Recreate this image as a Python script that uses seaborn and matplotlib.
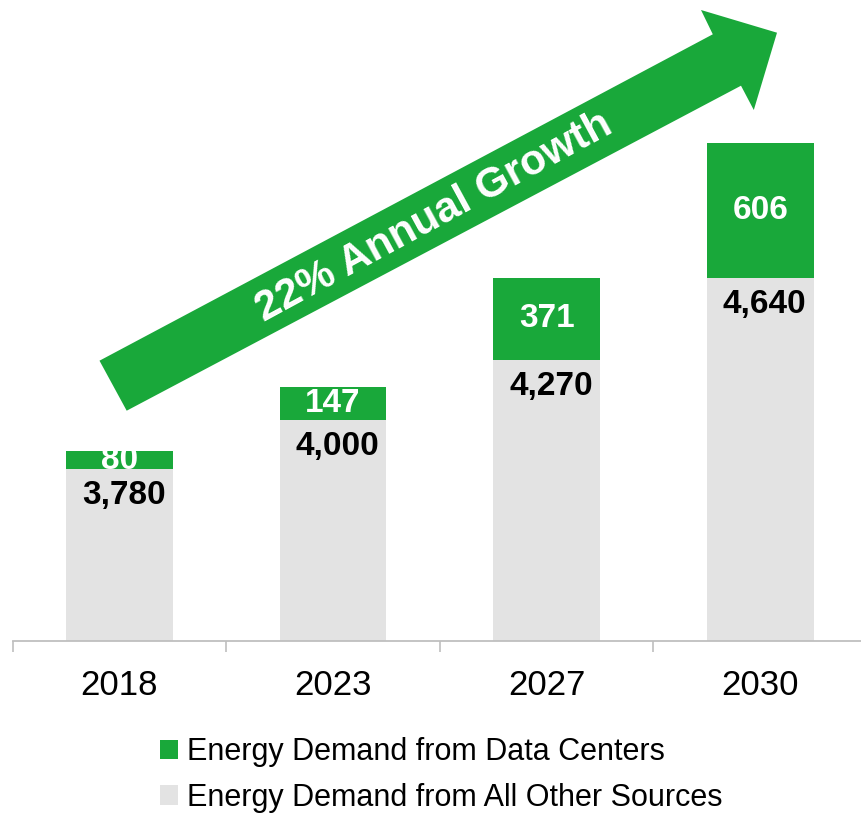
import matplotlib
matplotlib.use("Agg")
import matplotlib.pyplot as plt
from matplotlib.patches import Polygon, Patch, Rectangle
import seaborn as sns
import pandas as pd

years = ["2018", "2023", "2027", "2030"]
other_sources = [3780, 4000, 4270, 4640]
data_centers = [80, 147, 371, 606]
arrow_label = "22% Annual Growth"
legend_labels = ["Energy Demand from Data Centers", "Energy Demand from All Other Sources"]

GREEN = "#19A83A"
GRAY = "#E3E3E3"
AXIS = "#BFBFBF"

sns.set_style("white")
plt.rcParams["font.family"] = ["Liberation Sans", "DejaVu Sans"]
plt.rcParams["text.color"] = "black"
plt.rcParams["xtick.color"] = "black"

W, H = 861, 814
fig = plt.figure(figsize=(W / 100, H / 100), dpi=100)
ax_left, ax_right = 12.6, 867.0
ax_bottom_px = 641.0
ax = fig.add_axes([ax_left / W, 1 - ax_bottom_px / H, (ax_right - ax_left) / W, ax_bottom_px / H])

df = pd.DataFrame({
    "year": years,
    "other": other_sources,
    "dc": data_centers,
})
df["total"] = df["other"] + df["dc"]

sns.barplot(data=df, x="year", y="total", color=GREEN, saturation=1, width=0.5, ax=ax, linewidth=0)
sns.barplot(data=df, x="year", y="other", color=GRAY, saturation=1, width=0.5, ax=ax, linewidth=0)

ax.set_xlim(-0.5, 3.5)
ax.set_ylim(3006, 3006 + 641 / 0.2222)
ax.set_xlabel("")
ax.set_ylabel("")
ax.set_yticks([])
for s in ["left", "right", "top"]:
    ax.spines[s].set_visible(False)
ax.spines["bottom"].set_color(AXIS)
ax.spines["bottom"].set_linewidth(1.3)
ax.set_xticks(range(len(years)))
ax.set_xticklabels(years, fontsize=25, color="black")
ax.set_xticks([i - 0.5 for i in range(len(years) + 1)], minor=True)
ax.tick_params(axis="x", which="major", bottom=False, length=0, pad=20, labelcolor="black")
ax.tick_params(axis="x", which="minor", bottom=True, length=8, width=1.2, color=AXIS, direction="out")

for i, (o, d) in enumerate(zip(other_sources, data_centers)):
    ax.text(i + 0.02, o - 26.5 / 0.2222, f"{o:,}", ha="center", va="center",
            fontsize=24, fontweight="bold", color="black")
    t = ax.text(i, o + d / 2, f"{d:,}", ha="center", va="center",
                fontsize=24, fontweight="bold", color="white")
    clip = Rectangle((i - 0.25, o), 0.5, d, transform=ax.transData)
    t.set_clip_path(clip)

# Growth arrow (figure pixel coordinates converted to figure fraction)
pts_px = [(99.5, 360.7), (712.8, 34.3), (701, 10), (777, 32.7),
          (753.8, 110), (741, 85.7), (126.7, 410.7)]
pts = [(x / W, 1 - y / H) for x, y in pts_px]
arrow = Polygon(pts, closed=True, facecolor=GREEN, edgecolor="none",
                transform=fig.transFigure, zorder=5)
fig.add_artist(arrow)
fig.text(434 / W, 1 - 217 / H, arrow_label, rotation=28.5, rotation_mode="anchor",
         ha="center", va="center", fontsize=30.5, fontweight="bold", color="white", zorder=6)

handles = [Patch(facecolor=GREEN, edgecolor="none"), Patch(facecolor=GRAY, edgecolor="none")]
fig.legend(handles, legend_labels, loc="center left",
           bbox_to_anchor=(160 / W, 1 - 775 / H), frameon=False,
           fontsize=22, handlelength=0.6, handleheight=0.6, labelcolor="black",
           handletextpad=0.28, labelspacing=0.5, borderpad=0, borderaxespad=0)

fig.savefig("out.png", dpi=100)
